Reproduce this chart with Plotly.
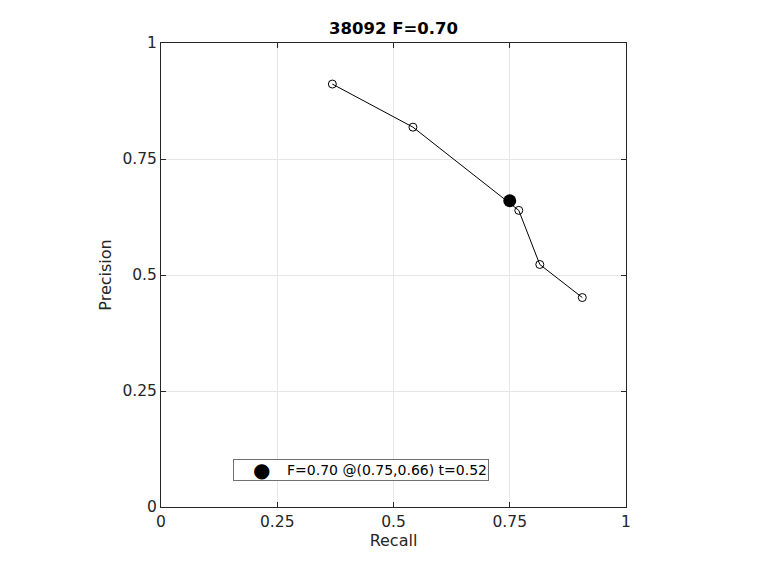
import plotly.graph_objects as go

# PR curve points (recall, precision)
recall = [0.3685, 0.5418, 0.7694, 0.8146, 0.9060]
precision = [0.9115, 0.8186, 0.6393, 0.5227, 0.4514]

# best F point
best_recall = [0.75]
best_precision = [0.66]
best_label = "F=0.70 @(0.75,0.66) t=0.52"
title = "38092 F=0.70"

tick_vals = [0, 0.25, 0.5, 0.75, 1]
tick_text = ["0", "0.25", "0.5", "0.75", "1"]

axis_color = "#262626"
font = "DejaVu Sans"

# the page body has an 8px margin, so shift margins to compensate
PAD = 8
L, R, T, B = 161 - PAD, 134 + PAD, 43 - PAD, 63 + PAD
PW, PH = 465, 464

fig = go.Figure()

fig.add_trace(go.Scatter(
    x=recall,
    y=precision,
    mode="lines+markers",
    line=dict(color="black", width=1),
    marker=dict(symbol="circle-open", size=8, color="black", line=dict(width=1)),
    showlegend=False,
))

fig.add_trace(go.Scatter(
    x=best_recall,
    y=best_precision,
    mode="markers",
    marker=dict(symbol="circle", size=13, color="black"),
    name=best_label,
    showlegend=False,
))

axis_style = dict(
    range=[0, 1],
    tickvals=tick_vals,
    ticktext=tick_text,
    ticks="inside",
    ticklen=5,
    tickcolor=axis_color,
    showline=True,
    linecolor=axis_color,
    linewidth=1,
    mirror="ticks",
    showgrid=True,
    gridcolor="#e6e6e6",
    gridwidth=1,
    zeroline=False,
    tickfont=dict(family=font, size=15.5, color=axis_color),
)

# MATLAB-style legend box drawn as annotations (box + symbol)
box_cx = (361 - 161) / PW
box_cy = (507 - 470) / PH
fig.add_annotation(
    xref="paper", yref="paper",
    x=box_cx, y=box_cy, xanchor="center", yanchor="middle",
    text=best_label, showarrow=False,
    width=252, height=18, align="right",
    bordercolor="#707070", borderwidth=1, borderpad=1, bgcolor="white",
    font=dict(family=font, size=14, color="black"),
)
fig.add_annotation(
    xref="paper", yref="paper",
    x=(261 - 161) / PW, y=box_cy, xanchor="center", yanchor="middle",
    text="●", showarrow=False,
    font=dict(family=font, size=20, color="black"),
)

fig.update_layout(
    width=760,
    height=570,
    margin=dict(l=L, r=R, t=T, b=B),
    paper_bgcolor="white",
    plot_bgcolor="white",
    title=dict(
        text="<b>" + title + "</b>",
        x=(L + PW / 2) / 760,
        xanchor="center",
        y=1 - (28 - PAD) / 570,
        yanchor="middle",
        font=dict(family=font, size=16.5, color="black"),
    ),
    xaxis=dict(axis_style, title=dict(text="Recall", standoff=4,
                                     font=dict(family=font, size=16, color=axis_color))),
    yaxis=dict(axis_style, title=dict(text="Precision", standoff=6,
                                     font=dict(family=font, size=16, color=axis_color))),
)

fig.write_html("out.html")
